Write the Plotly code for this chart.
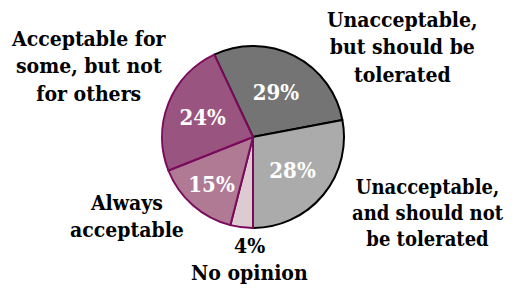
import plotly.graph_objects as go

# Data (clockwise order as drawn, gray slices first so purple borders sit on top)
categories = [
    "Unacceptable, but should be tolerated",
    "Unacceptable, and should not be tolerated",
    "No opinion",
    "Always acceptable",
    "Acceptable for some, but not for others",
]
values = [29, 28, 4, 15, 24]
label_texts = [
    "Unacceptable,<br>but should be<br>tolerated",
    "Unacceptable,<br>and should not<br>be tolerated",
    "No opinion",
    "Always<br>acceptable",
    "Acceptable for<br>some, but not<br>for others",
]

colors = ["#747474", "#ababab", "#dccbd0", "#b07a95", "#9a5480"]
line_colors = ["#000000", "#000000", "#7a0a5c", "#7a0a5c", "#7a0a5c"]

FONT = "DejaVu Serif Condensed, DejaVu Serif"
OFF = 8  # page body margin
W, H = 515 - OFF, 288 - OFF


def px(x, y):
    return (x - OFF) / W, 1 - (y - OFF) / H


inside_text = [f"<b>{v}%</b>" if v >= 10 else "" for v in values]

cx, cy, r = 253, 137, 91
x0, y1 = px(cx - r, cy - r)
x1, y0 = px(cx + r, cy + r)

fig = go.Figure(go.Pie(
    labels=categories,
    values=values,
    sort=False,
    direction="clockwise",
    rotation=-25.2,
    text=inside_text,
    textinfo="text",
    textposition="inside",
    insidetextorientation="horizontal",
    textfont=dict(family=FONT, size=22, color="white"),
    marker=dict(colors=colors, line=dict(color=line_colors, width=2)),
    domain=dict(x=[x0, x1], y=[y0, y1]),
    hoverinfo="label+percent",
    showlegend=False,
))

label_pos = [(402, 47), (428, 213), (249, 272), (127, 216), (89, 66)]
label_sizes = [21, 20, 21, 21, 21]
annotations = []
for txt, (x, y), fs in zip(label_texts, label_pos, label_sizes):
    ax, ay = px(x, y)
    annotations.append(dict(
        x=ax, y=ay, xref="paper", yref="paper",
        text=f"<b>{txt}</b>", showarrow=False,
        font=dict(family=FONT, size=fs, color="black"),
        xanchor="center", yanchor="middle", align="center",
    ))
# small slice percentage outside
ax, ay = px(249, 245)
annotations.append(dict(
    x=ax, y=ay, xref="paper", yref="paper",
    text=f"<b>{values[2]}%</b>", showarrow=False,
    font=dict(family=FONT, size=21, color="black"),
    xanchor="center", yanchor="middle",
))

fig.update_layout(
    width=W, height=H,
    margin=dict(l=0, r=0, t=0, b=0),
    paper_bgcolor="white", plot_bgcolor="white",
    annotations=annotations,
)

fig.write_html("out.html")
